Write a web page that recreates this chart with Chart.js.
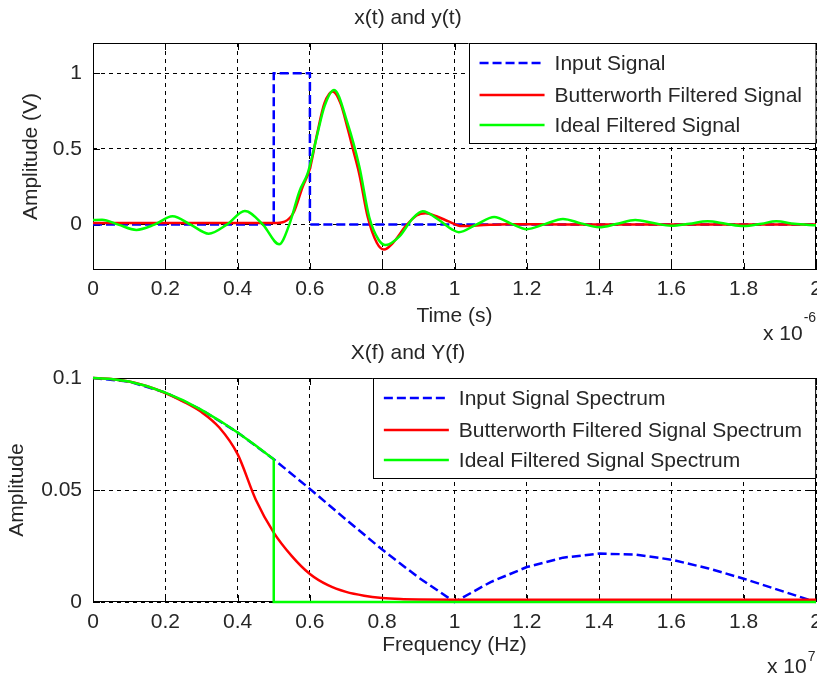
<!DOCTYPE html>
<html lang="en">
<head>
<meta charset="UTF-8">
<title>x(t) and y(t) / X(f) and Y(f)</title>
<script src="https://cdn.jsdelivr.net/npm/chart.js"></script>
<style>
  body { margin: 0; background: #fff; }
  #wrap { position: relative; width: 817px; height: 673px; }
  canvas { position: absolute; left: 0; }
  #timeChart { top: 0; }
  #freqChart { top: 335px; }
</style>
</head>
<body>
<div id="wrap">
  <canvas id="timeChart" width="817" height="345"></canvas>
  <canvas id="freqChart" width="817" height="338"></canvas>
</div>
<script>
// time axis in units of 1e-6 s, frequency axis in units of 1e7 Hz
const timeTicks = [0, 0.2, 0.4, 0.6, 0.8, 1, 1.2, 1.4, 1.6, 1.8, 2];
const timeTickLabels = ['0', '0.2', '0.4', '0.6', '0.8', '1', '1.2', '1.4', '1.6', '1.8', '2'];
const ampTicks = [0, 0.5, 1];
const ampTickLabels = ['0', '0.5', '1'];
const freqTicks = [0, 0.2, 0.4, 0.6, 0.8, 1, 1.2, 1.4, 1.6, 1.8, 2];
const freqTickLabels = ['0', '0.2', '0.4', '0.6', '0.8', '1', '1.2', '1.4', '1.6', '1.8', '2'];
const specTicks = [0, 0.05, 0.1];
const specTickLabels = ['0', '0.05', '0.1'];

const timeLabels = ['Input Signal', 'Butterworth Filtered Signal', 'Ideal Filtered Signal'];
const freqLabels = ['Input Signal Spectrum', 'Butterworth Filtered Signal Spectrum', 'Ideal Filtered Signal Spectrum'];

// x(t) - rectangular pulse
const inputT = [0, 0.5, 0.5, 0.6, 0.6, 2];
const inputV = [0, 0, 1, 1, 0, 0];

// y(t) - butterworth output
const butterT = [0, 0.5, 0.53, 0.555, 0.58, 0.6, 0.62, 0.64, 0.663, 0.685, 0.705, 0.72, 0.737, 0.76, 0.785,
                 0.805, 0.83, 0.865, 0.895, 0.92, 0.95, 0.985, 1.02, 1.07, 1.15, 1.3, 2];
const butterV = [0.01, 0.01, 0.02, 0.08, 0.25, 0.37, 0.6, 0.8, 0.88, 0.8, 0.63, 0.49, 0.33, 0.05, -0.12,
                 -0.165, -0.12, -0.01, 0.06, 0.075, 0.055, 0.02, -0.01, -0.005, 0.003, 0, 0];

// y(t) - ideal lowpass output
const idealT = [0, 0.025, 0.07, 0.12, 0.17, 0.22, 0.27, 0.32, 0.37, 0.42, 0.47, 0.515, 0.543, 0.571, 0.594,
                0.617, 0.64, 0.667, 0.704, 0.737, 0.764, 0.79, 0.81, 0.847, 0.884, 0.912, 0.957, 0.994, 1.012,
                1.06, 1.11, 1.155, 1.2, 1.25, 1.3, 1.35, 1.4, 1.45, 1.5, 1.55, 1.6, 1.65, 1.7, 1.75, 1.8,
                1.85, 1.89, 1.94, 2];
const idealV = [0.03, 0.032, 0, -0.035, 0, 0.055, 0, -0.06, 0, 0.09, 0, -0.13, 0, 0.22, 0.34,
                0.56, 0.78, 0.89, 0.67, 0.38, 0.05, -0.1, -0.135, -0.08, 0.04, 0.088, 0.03, -0.033, -0.05,
                0, 0.05, 0.008, -0.03, 0.003, 0.037, 0.008, -0.018, 0.005, 0.03, 0.01, -0.008, 0.006, 0.022,
                0.006, -0.01, 0.006, 0.022, 0.005, -0.005];

// |X(f)|
const specF = [0, 0.1, 0.2, 0.3, 0.4, 0.5, 0.6, 0.7, 0.8, 0.9, 1, 1.1, 1.2, 1.3, 1.4, 1.5, 1.6, 1.7, 1.8, 1.9, 2];
const inputSpec = [0.1, 0.0984, 0.0935, 0.0858, 0.0757, 0.0637, 0.0505, 0.0368, 0.0234, 0.011, 0,
                   0.0089, 0.0156, 0.0198, 0.0216, 0.0212, 0.0189, 0.0151, 0.0104, 0.0052, 0];

// |Y(f)| butterworth
const butterF = [0, 0.05, 0.1, 0.15, 0.2, 0.25, 0.3, 0.35, 0.4, 0.45, 0.5, 0.55, 0.6, 0.65, 0.7, 0.75, 0.8,
                 0.85, 0.9, 1, 2];
const butterSpec = [0.1, 0.0996, 0.0984, 0.0963, 0.0933, 0.0895, 0.0848, 0.0778, 0.066, 0.0458, 0.031, 0.0205,
                    0.0125, 0.0075, 0.0045, 0.0028, 0.0018, 0.0013, 0.0011, 0.001, 0.001];

// |Y(f)| ideal
const idealF = [0, 0.05, 0.1, 0.15, 0.2, 0.25, 0.3, 0.35, 0.4, 0.45, 0.5, 0.5, 2];
const idealSpec = [0.1, 0.0996, 0.0984, 0.0963, 0.0935, 0.09, 0.0858, 0.081, 0.0757, 0.0699, 0.0637, 0, 0];

const pts = (xs, ys) => xs.map((x, i) => ({x: x, y: ys[i]}));

Chart.defaults.font.family = '"Liberation Sans", Arial, sans-serif';
Chart.defaults.font.size = 21;
Chart.defaults.color = '#262626';

// axes box and inward ticks under the lines, legend and exponent label on top
const matlabAxes = {
    id: 'matlabAxes',
    beforeDatasetsDraw(chart) {
        const {ctx, chartArea: a, scales} = chart;
        ctx.save();
        ctx.strokeStyle = '#000';
        ctx.lineWidth = 1;
        ctx.strokeRect(a.left + 0.5, a.top + 0.5, a.right - a.left - 1, a.bottom - a.top - 1);
        ctx.beginPath();
        scales.x.ticks.forEach(t => {
            const px = Math.round(scales.x.getPixelForValue(t.value)) + 0.5;
            ctx.moveTo(px, a.bottom); ctx.lineTo(px, a.bottom - 7);
            ctx.moveTo(px, a.top); ctx.lineTo(px, a.top + 7);
        });
        scales.y.ticks.forEach(t => {
            const py = Math.round(scales.y.getPixelForValue(t.value)) + 0.5;
            ctx.moveTo(a.left, py); ctx.lineTo(a.left + 7, py);
            ctx.moveTo(a.right, py); ctx.lineTo(a.right - 7, py);
        });
        ctx.stroke();
        ctx.restore();
    },
    afterDraw(chart, args, opts) {
        const {ctx, chartArea: a} = chart;
        const sets = chart.data.datasets;
        ctx.save();
        ctx.font = '21px "Liberation Sans", Arial, sans-serif';
        let tw = 0;
        sets.forEach(ds => { tw = Math.max(tw, ctx.measureText(ds.label).width); });
        const w = tw + 100, h = 100;
        const left = a.right - w, top = a.top;
        ctx.fillStyle = '#fff';
        ctx.fillRect(left, top, w, h);
        ctx.strokeStyle = '#000';
        ctx.lineWidth = 1;
        ctx.strokeRect(Math.round(left) + 0.5, top + 0.5, w - 1, h);
        const rows = [20, 52, 82];
        sets.forEach((ds, i) => {
            const y = top + rows[i];
            ctx.beginPath();
            ctx.strokeStyle = ds.borderColor;
            ctx.lineWidth = ds.borderWidth;
            ctx.setLineDash(ds.borderDash || []);
            ctx.moveTo(left + 11, y);
            ctx.lineTo(left + 76, y);
            ctx.stroke();
            ctx.setLineDash([]);
            ctx.fillStyle = '#262626';
            ctx.textBaseline = 'middle';
            ctx.textAlign = 'left';
            ctx.fillText(ds.label, left + 86, y + 1);
        });
        // axis multiplier
        ctx.textBaseline = 'alphabetic';
        const bx = a.right - opts.expOffset;
        ctx.fillText('x 10', bx, a.bottom + opts.baseDrop);
        const bw = ctx.measureText('x 10').width;
        ctx.font = '14px "Liberation Sans", Arial, sans-serif';
        ctx.fillText(opts.exponent, bx + bw + 1, a.bottom + opts.supDrop);
        ctx.restore();
    }
};

function makeChart(id, cfg) {
    return new Chart(document.getElementById(id), {
        type: 'line',
        data: {datasets: cfg.datasets},
        options: {
            responsive: false,
            animation: false,
            events: [],
            layout: {padding: {left: 0, right: 1, top: 0, bottom: 0}},
            elements: {point: {radius: 0}},
            datasets: {line: {clip: 4}},
            plugins: {
                legend: {display: false},
                tooltip: {enabled: false},
                title: {
                    display: true,
                    text: cfg.title,
                    font: {size: 21, weight: 'normal'},
                    color: '#262626',
                    padding: {top: 6, bottom: 11.8}
                },
                matlabAxes: cfg.exp
            },
            scales: {
                x: {
                    type: 'linear',
                    min: 0, max: 2,
                    afterBuildTicks: s => { s.ticks = cfg.xTicks.map(v => ({value: v})); },
                    afterFit: s => { s.height = cfg.xHeight; s.paddingLeft = 0; s.paddingRight = 0; },
                    ticks: {
                        autoSkip: false, maxRotation: 0, padding: cfg.xTickPad,
                        callback: (v, i) => cfg.xLabels[i]
                    },
                    grid: {color: '#000', lineWidth: 1, drawTicks: false},
                    border: {display: false, dash: [4, 4]},
                    title: {display: true, text: cfg.xTitle, padding: {top: 0, bottom: cfg.xTitlePad}}
                },
                y: {
                    type: 'linear',
                    min: cfg.yMin, max: cfg.yMax,
                    afterBuildTicks: s => { s.ticks = cfg.yTicks.map(v => ({value: v})); },
                    afterFit: s => { s.width = 93; s.paddingTop = 0; s.paddingBottom = 0; },
                    ticks: {padding: 11, callback: (v, i) => cfg.yLabels[i]},
                    grid: {color: '#000', lineWidth: 1, drawTicks: false},
                    border: {display: false, dash: [4, 4]},
                    title: {display: true, text: cfg.yTitle, padding: {top: cfg.yTitlePad, bottom: 0}}
                }
            }
        },
        plugins: [matlabAxes]
    });
}

makeChart('timeChart', {
    title: 'x(t) and y(t)',
    xTitle: 'Time (s)', yTitle: 'Amplitude (V)',
    xTicks: timeTicks, xLabels: timeTickLabels,
    yTicks: ampTicks, yLabels: ampTickLabels,
    yMin: -0.3, yMax: 1.2,
    xHeight: 75, xTickPad: 7, xTitlePad: 16, yTitlePad: 19,
    exp: {exponent: '-6', expOffset: 53, baseDrop: 70, supDrop: 52},
    datasets: [
        {label: timeLabels[0], data: pts(inputT, inputV), borderColor: '#0000ff', borderWidth: 2.5,
         borderDash: [9, 4], tension: 0, order: 3},
        {label: timeLabels[1], data: pts(butterT, butterV), borderColor: '#ff0000', borderWidth: 2.5,
         cubicInterpolationMode: 'monotone', order: 2},
        {label: timeLabels[2], data: pts(idealT, idealV), borderColor: '#00ff00', borderWidth: 2.5,
         cubicInterpolationMode: 'monotone', order: 1}
    ]
});

makeChart('freqChart', {
    title: 'X(f) and Y(f)',
    xTitle: 'Frequency (Hz)', yTitle: 'Amplitude',
    xTicks: freqTicks, xLabels: freqTickLabels,
    yTicks: specTicks, yLabels: specTickLabels,
    yMin: 0, yMax: 0.1,
    xHeight: 71, xTickPad: 8, xTitlePad: 15, yTitlePad: 5,
    exp: {exponent: '7', expOffset: 49, baseDrop: 71, supDrop: 59},
    datasets: [
        {label: freqLabels[0], data: pts(specF, inputSpec), borderColor: '#0000ff', borderWidth: 2.5,
         borderDash: [9, 4], tension: 0, order: 3},
        {label: freqLabels[1], data: pts(butterF, butterSpec), borderColor: '#ff0000', borderWidth: 2.5,
         cubicInterpolationMode: 'monotone', order: 2},
        {label: freqLabels[2], data: pts(idealF, idealSpec), borderColor: '#00ff00', borderWidth: 2.5,
         tension: 0, order: 1}
    ]
});
</script>
</body>
</html>
